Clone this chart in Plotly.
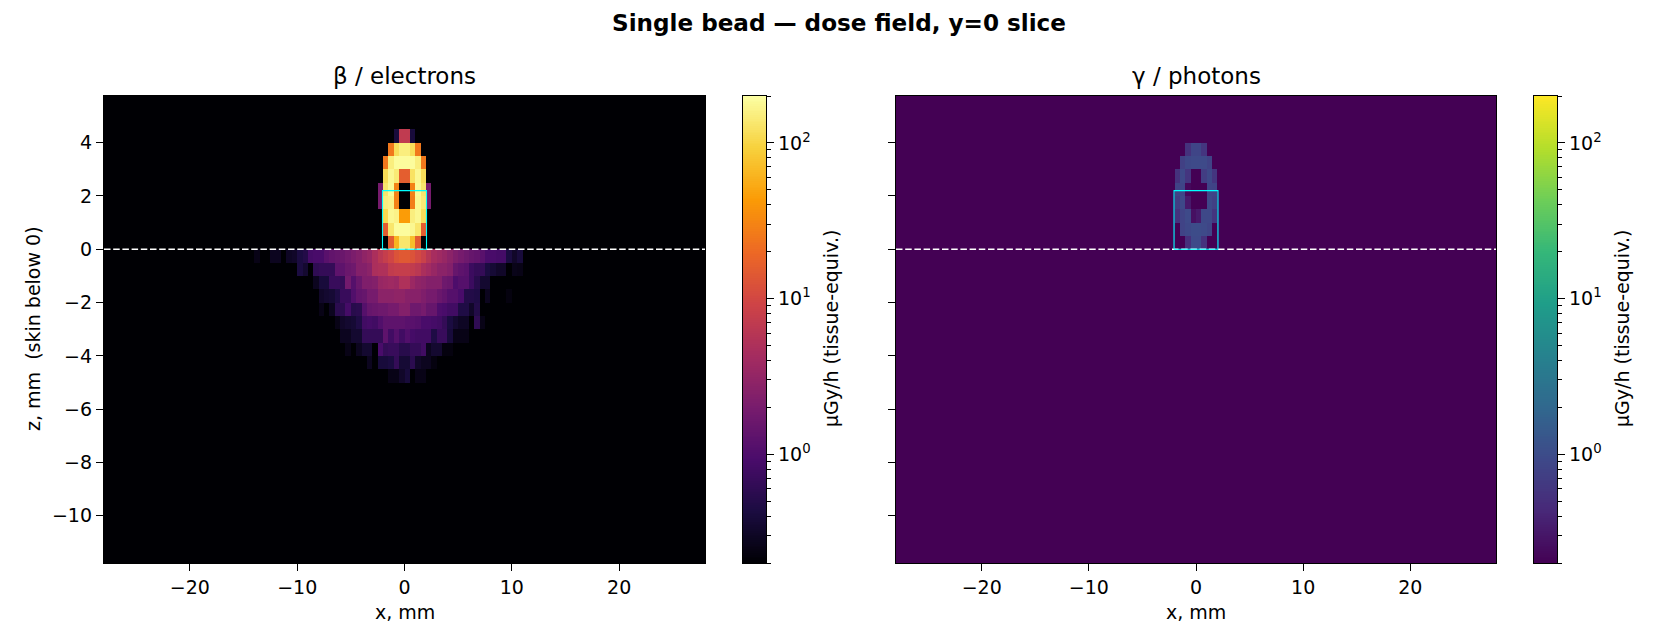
import numpy as np
import plotly.graph_objects as go
from plotly.colors import sequential

W, H = 1680, 644
VMIN, VMAX = 0.2, 200.0
CELL = 0.5

x_centers = np.arange(-27.75, 28.0, CELL)
z_centers = np.arange(-11.75, 6.0, CELL)

# Dose in uGy/h per row: (row centre z, left edge x of first cell, values)
beta_skin_rows = [
    (-0.25, -14.0, [.25,.2,.2,.28,.28,.2,.30,.32,.43,.49,.86,.91,.91,1.2,1.38,1.48,1.59,1.82,2.09,2.4,2.95,3.39,4.79,6.32,7.76,9.55,12.6,14.5,14.5,12.6,10.2,8.32,5.89,4.47,3.89,3.39,2.75,2.24,1.95,1.7,1.48,1.38,1.2,.91,.91,.86,.86,.43,.32,.40]),
    (-0.75, -10.0, [.43,.35]),
    (-0.75, -8.5, [.6,.65,.65,.65,1.29,1.29,1.59,1.7,2.4,2.4,2.75,4.79,5.13,5.13,7.24,7.76,7.76,7.76,7.24,6.32,4.79,4.17,3.39,2.75,2.75,2.4,1.48,1.29,1.2,.74,.65,.65,.43,.37,.32,.32,.2,.26,.25]),
    (-1.25, -8.5, [.28,.4,.4,.69,.69,.65,1.82,1.12,1.59,2.24,2.24,2.4,3.39,3.63,3.89,3.63,5.13,5.13,3.63,2.95,2.75,2.4,2.4,2.4,1.7,1.59,.98,1.12,1.12,.74,.53,.35,.35]),
    (-1.75, -8.0, [.32,.35,.37,.46,.69,.69,1.05,1.38,1.48,1.95,1.95,2.75,2.75,2.75,2.95,2.95,2.58,2.58,2.58,2.24,1.95,1.95,1.59,1.38,1.12,1.12,.91,.49,.49,.46,.2,.28,.2,.2,.2,.23]),
    (-2.25, -8.0, [.25,.2,.28,.56,.56,.86,.53,.56,1.12,1.48,1.59,1.7,1.7,1.95,1.95,2.4,2.4,1.7,1.7,1.95,1.48,1.48,.98,.91,.8,.8,.46,.46,.32,.49]),
    (-2.75, -6.5, [.25,.32,.35,.37,.46,.8,.86,.8,1.05,1.29,1.29,1.29,1.29,1.2,1.2,1.12,.91,.91,.86,.8,.65,.43,.35,.30,.30,.2,.6,.25]),
    (-3.25, -6.0, [.28,.28,.35,.35,.65,.65,.65,.65,1.29,.8,1.12,.8,1.05,.86,.8,.8,.8,.46,.69,.69,.40,.25,.25,.25]),
    (-3.75, -5.5, [.25,.2,.28,.35,.35,.2,.91,.65,.69,.69,.53,.53,.65,.65,.8,.28,.35,.35,.23,.23]),
    (-4.25, -3.5, [.28,.2,.40,.40,.43,.65,.37,.37,.56,.32,.28,.28,.23]),
    (-4.75, -1.5, [.25,.25,.32,.40,.2,.25,.25]),
]
beta_bead_rows = [
    (4.25, -1.0, [.40,7,7,.40]),
    (3.75, -1.5, [25.2,115,151,151,115,25.2]),
    (3.25, -2.0, [25,151,190,190,190,190,151,25]),
    (2.75, -2.0, [112,175,141,16,16,123,175,115]),
    (2.25, -2.5, [1.95,132,182,29,.2,.2,29,182,132,1.95]),
    (1.75, -2.5, [1.95,151,162,29,.2,.2,27,174,141,1.95]),
    (1.25, -2.0, [107,174,162,44,44,151,174,115]),
    (0.75, -2.0, [15.5,132,190,190,190,174,132,15.5]),
    (0.25, -1.5, [15.5,62,132,132,71,15.5]),
]
gamma_bead_rows = [
    (3.75, -1.0, [.54,.85,.85,.58]),
    (3.25, -1.5, [.75,.9,.95,.95,.95,.8]),
    (2.75, -2.0, [.54,.9,.58,.2,.2,.7,.9,.58]),
    (2.25, -2.0, [.8,.85,.23,.2,.2,.2,.85,.8]),
    (1.75, -2.0, [.7,.9,.33,.2,.2,.2,.9,.75]),
    (1.25, -2.0, [.54,.8,.95,.27,.33,.9,.9,.58]),
    (0.75, -1.5, [.8,.9,1.0,1.0,.95,.85]),
    (0.25, -1.0, [.52,.95,.95,.54]),
]

skin_level_z = [0.0, 0.0]
skin_level_x = [-28.0, 28.0]
bead_outline_x = [-2.05, -2.05, 2.05, 2.05, -2.05]
bead_outline_z = [0.0, 2.2, 2.2, 0.0, 0.0]

x_ticks = [-20, -10, 0, 10, 20]
z_ticks = [-10, -8, -6, -4, -2, 0, 2, 4]
cbar_ticks = [1, 10, 100]
cbar_labels = ["10<sup>0</sup>", "10<sup>1</sup>", "10<sup>2</sup>"]
cbar_minor = [0.2, 0.3, 0.4, 0.5, 0.6, 0.7, 0.8, 0.9,
              2, 3, 4, 5, 6, 7, 8, 9,
              20, 30, 40, 50, 60, 70, 80, 90, 200]


def build_grid(rows):
    grid = np.full((z_centers.size, x_centers.size), VMIN)
    for z, x_left, values in rows:
        r = int(round((z - z_centers[0]) / CELL))
        c = int(round((x_left + 28.0) / CELL))
        grid[r, c:c + len(values)] = values
    return grid


def log_norm(grid):
    return np.log10(np.clip(grid, VMIN, VMAX))


def dom_x(a, b):
    return [a / W, b / W]


def dom_y(top, bottom):
    return [1 - bottom / H, 1 - top / H]


TOP, BOTTOM = 96.0, 563.0
FONT = "DejaVu Sans"
TEXT_SIZE = 19
tick_font = dict(family=FONT, size=TEXT_SIZE, color="black")
frame = dict(showline=True, linecolor="black", linewidth=1.4, mirror=True,
             ticks="outside", ticklen=7, tickwidth=1.4, tickcolor="black",
             showgrid=False, zeroline=False, tickfont=tick_font)

panels = [
    dict(ax="", cax=3, grid=build_grid(beta_skin_rows + beta_bead_rows), cs=sequential.Inferno,
         x0=104.0, x1=705.0, c0=743.0, c1=766.0, title="β / electrons"),
    dict(ax="2", cax=4, grid=build_grid(gamma_bead_rows), cs=sequential.Viridis,
         x0=896.0, x1=1496.0, c0=1534.0, c1=1557.0, title="γ / photons"),
]

fig = go.Figure()
layout = dict(
    width=W, height=H, margin=dict(l=0, r=0, t=0, b=0),
    paper_bgcolor="white", plot_bgcolor="white",
    showlegend=False, font=dict(family=FONT, size=TEXT_SIZE, color="black"),
)
annotations = []

for i, p in enumerate(panels):
    xa, ya = f"x{p['ax']}", f"y{p['ax']}"
    cxa, cya = f"x{p['cax']}", f"y{p['cax']}"

    fig.add_trace(go.Heatmap(x=x_centers, y=z_centers, z=log_norm(p["grid"]),
                             colorscale=p["cs"], zmin=np.log10(VMIN), zmax=np.log10(VMAX),
                             showscale=False, hoverinfo="skip", xaxis=xa, yaxis=ya))
    fig.add_trace(go.Scatter(x=skin_level_x, y=skin_level_z, mode="lines",
                             line=dict(color="white", width=1.4, dash="6.5px,2.7px"),
                             hoverinfo="skip", xaxis=xa, yaxis=ya))
    fig.add_trace(go.Scatter(x=bead_outline_x, y=bead_outline_z, mode="lines",
                             line=dict(color="cyan", width=1.1),
                             hoverinfo="skip", xaxis=xa, yaxis=ya))

    # Colour ramp with its own log axis, so major and minor ticks can differ in length
    ramp = np.logspace(np.log10(VMIN), np.log10(VMAX), 256)
    fig.add_trace(go.Heatmap(x=[0], y=ramp, z=np.log10(ramp)[:, None],
                             colorscale=p["cs"], zmin=np.log10(VMIN), zmax=np.log10(VMAX),
                             showscale=False, hoverinfo="skip", xaxis=cxa, yaxis=cya))

    layout[f"xaxis{p['ax']}"] = dict(
        frame, domain=dom_x(p["x0"], p["x1"]), range=[-28, 28], anchor=ya, tickvals=x_ticks)
    layout[f"yaxis{p['ax']}"] = dict(
        frame, domain=dom_y(TOP, BOTTOM), range=[-11.77, 5.75], anchor=xa,
        tickvals=z_ticks, showticklabels=(i == 0))
    layout[f"xaxis{p['cax']}"] = dict(
        domain=dom_x(p["c0"], p["c1"]), range=[-0.5, 0.5], anchor=cya,
        showline=True, linecolor="black", linewidth=1.4, mirror=True,
        showticklabels=False, ticks="", showgrid=False, zeroline=False)
    layout[f"yaxis{p['cax']}"] = dict(
        frame, domain=dom_y(TOP, BOTTOM), type="log",
        range=[np.log10(VMIN), np.log10(VMAX)], anchor=cxa, side="right",
        tickmode="array", tickvals=cbar_ticks, ticktext=cbar_labels,
        minor=dict(tickmode="array", tickvals=cbar_minor, ticks="outside",
                   ticklen=4, tickwidth=1.0, tickcolor="black", showgrid=False))

    mid = (p["x0"] + p["x1"]) / 2
    annotations.append(dict(text=p["title"], x=mid / W, y=1 - 76 / H, xref="paper", yref="paper",
                            showarrow=False, xanchor="center", yanchor="middle",
                            font=dict(family=FONT, size=23, color="black")))
    annotations.append(dict(text="x, mm", x=mid / W, y=1 - 612 / H, xref="paper", yref="paper",
                            showarrow=False, xanchor="center", yanchor="middle",
                            font=dict(family=FONT, size=TEXT_SIZE, color="black")))
    annotations.append(dict(text="μGy/h (tissue-equiv.)", x=(p["c1"] + 65) / W, y=1 - 329 / H,
                            xref="paper", yref="paper", showarrow=False, textangle=-90,
                            xanchor="center", yanchor="middle",
                            font=dict(family=FONT, size=TEXT_SIZE, color="black")))

annotations.append(dict(text="z, mm  (skin below 0)", x=33 / W, y=1 - 329 / H,
                        xref="paper", yref="paper", showarrow=False, textangle=-90,
                        xanchor="center", yanchor="middle",
                        font=dict(family=FONT, size=TEXT_SIZE, color="black")))
annotations.append(dict(text="<b>Single bead — dose field, y=0 slice</b>", x=0.4995, y=1 - 23 / H,
                        xref="paper", yref="paper", showarrow=False,
                        xanchor="center", yanchor="middle",
                        font=dict(family=FONT, size=23.1, color="black")))

fig.update_layout(annotations=annotations, **layout)
fig.write_html("out.html")
